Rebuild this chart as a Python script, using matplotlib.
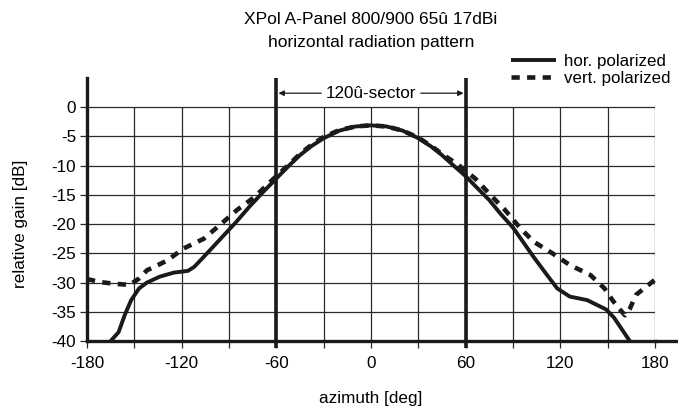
import matplotlib
matplotlib.use("Agg")
import matplotlib.pyplot as plt

plt.rcParams['font.family'] = ['Liberation Sans', 'DejaVu Sans']

title_lines = ["XPol A-Panel 800/900 65û 17dBi", "horizontal radiation pattern"]
xlabel = "azimuth [deg]"
ylabel = "relative gain [dB]"
sector_label = "120û-sector"
series_names = ["hor. polarized", "vert. polarized"]
xticks = [-180, -120, -60, 0, 60, 120, 180]
yticks = [0, -5, -10, -15, -20, -25, -30, -35, -40]
xgrid = [-180, -150, -120, -90, -60, -30, 0, 30, 60, 90, 120, 150, 180]
sector_edges = [-60, 60]

hor_az = [-165, -160, -156, -152, -147, -142, -134, -125, -116, -112, -106, -96, -86, -77,
          -68, -60, -52, -45, -38, -30, -20, -10, 0, 10, 20, 30, 38, 45, 52, 60, 68, 75,
          82, 90, 96, 103, 111, 118, 126, 137, 149, 154, 158, 162, 164]
hor_db = [-40, -38.5, -35.5, -33, -31, -30, -29, -28.3, -28, -27.3, -25.6, -22.7, -19.8, -17,
          -14.4, -12.2, -10, -8.2, -6.7, -5.3, -4, -3.3, -3.1, -3.3, -4, -5.3, -6.7, -8.2,
          -9.9, -11.8, -14, -15.9, -18.2, -20.6, -22.9, -25.6, -28.5, -31, -32.4, -33, -34.6,
          -36, -37.6, -39.2, -40]

ver_az = [-180, -172, -163, -153, -147, -142, -135, -129, -119, -106, -96, -85, -74, -64,
          -54, -45, -38, -30, -20, -10, 0, 10, 20, 30, 38, 45, 55, 66, 75, 85, 94, 103, 115,
          126, 139, 148, 153, 157, 161, 164, 168, 174, 180]
ver_db = [-29.4, -29.9, -30.2, -30.4, -29.3, -27.9, -27, -26.2, -24.2, -22.5, -20.2, -17.6,
          -15.4, -12.8, -10.3, -8, -6.5, -5.1, -3.9, -3.3, -3.1, -3.3, -4, -5.2, -6.6, -8,
          -9.8, -12.2, -14.8, -17.6, -20.5, -23, -25, -27, -28.7, -31, -33, -34.4, -35.6,
          -34.5, -32.1, -30.8, -29.5]

W, H = 678, 408
fig = plt.figure(figsize=(W / 100, H / 100), dpi=100)
ax = fig.add_axes([87 / W, 1 - 341 / H, (655 - 87) / W, (341 - 78) / H])
ax.set_xlim(-180, 180)
ax.set_ylim(-40, 5)

gc = '#2a2a2a'
ink = '#1a1a1a'
ax.vlines(xgrid, -40, 0, color=gc, lw=0.9, zorder=1)
ax.hlines(yticks, -180, 180, color=gc, lw=0.9, zorder=1)

ax.vlines(sector_edges, -41.2, 5, color=ink, lw=2.6, zorder=3, clip_on=False)

ax.plot(hor_az, hor_db, color=ink, lw=2.8, solid_capstyle='butt', zorder=4,
        clip_on=False, label=series_names[0])
ax.plot(ver_az, ver_db, color=ink, lw=3.3, dashes=(1.8, 1.6), dash_capstyle='butt',
        zorder=4, clip_on=False, label=series_names[1])

for s in ['top', 'right']:
    ax.spines[s].set_visible(False)
for s in ['left', 'bottom']:
    ax.spines[s].set_linewidth(2.4)
    ax.spines[s].set_color(ink)
ax.plot([1, 1.045], [0, 0], transform=ax.transAxes, color=ink, lw=2.4,
        clip_on=False, solid_capstyle='butt')

ax.set_xticks(xgrid)
ax.set_xticklabels([str(v) if v in xticks else '' for v in xgrid])
ax.set_yticks(yticks)
ax.set_yticklabels([str(v) for v in yticks])
ax.tick_params(axis='x', length=5, width=0.9, pad=6, labelsize=12.3, color=gc)
ax.tick_params(axis='y', length=5, width=0.9, pad=3, labelsize=12.3, color=gc)

ax.set_xlabel(xlabel, fontsize=12.3, labelpad=14)
ax.set_ylabel(ylabel, fontsize=12.3)
ax.yaxis.set_label_coords(-0.103, (341 - 224) / (341 - 78))

ax.text(0, 2.4, sector_label, ha='center', va='center', fontsize=12.3)
for edge, start in [(-60, -31.5), (60, 31.5)]:
    ax.annotate('', xy=(edge, 2.4), xytext=(start, 2.4),
                arrowprops=dict(arrowstyle='-|>', lw=0.9, color=ink,
                                shrinkA=0, shrinkB=1.5, mutation_scale=8))

for line, ypx in zip(title_lines, [20, 43]):
    fig.text(371 / W, 1 - ypx / H, line, ha='center', va='center', fontsize=12.5)

fig.legend(loc='upper left', bbox_to_anchor=(511 / W, 1 - 54 / H), frameon=False,
           fontsize=12.2, handlelength=2.65, handletextpad=0.5, labelspacing=0.12,
           borderpad=0, borderaxespad=0)

fig.savefig('out.png', dpi=100)
